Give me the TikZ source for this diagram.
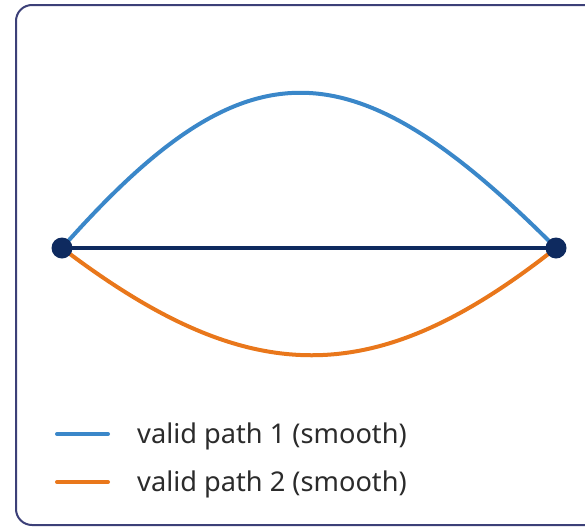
\documentclass[tikz,border=0pt]{standalone}
\usepackage{fontspec}
\setmainfont{Noto Sans}
\usetikzlibrary{backgrounds}
\definecolor{navy}{HTML}{0E2A5F}
\definecolor{framec}{HTML}{3C4078}
\definecolor{pathblue}{HTML}{3A87C9}
\definecolor{pathorange}{HTML}{E9771B}
\definecolor{textgray}{HTML}{2B2B2B}
\tikzset{
    dot/.style={circle, fill=navy, inner sep=0pt, minimum size=21pt},
    edgeline/.style={navy, line width=4.5pt},
    bluepath/.style={pathblue, line width=4pt, line cap=round},
    orangepath/.style={pathorange, line width=4pt, line cap=round},
    legtext/.style={anchor=west, font=\fontsize{27.2}{30}\selectfont, text=textgray, inner sep=0pt}
}

\begin{document}
\begin{tikzpicture}[x=1pt,y=-1pt]
\useasboundingbox (0,0) rectangle (585,530);
\draw[framec, line width=2pt, rounded corners=16pt] (16,5) rectangle (610,525);
% the two end points
\node[dot] (left) at (62,248) {};
\node[dot] (right) at (556,248) {};
\begin{pgfonlayer}{background}
\draw[edgeline] (left.center) -- (right.center);
\draw[bluepath] (left.center) .. controls (245,41) and (350,41) .. (right.center);
\draw[orangepath] (left.center) .. controls (250,391) and (375,391) .. (right.center);
\end{pgfonlayer}
% legend
\node[legtext] (leg1) at (137,436) {valid path 1 (smooth)};
\node[legtext] (leg2) at (137,484) {valid path 2 (smooth)};
\coordinate (b1) at (57,434);
\coordinate (o1) at (57,482);
\draw[bluepath] (b1) -- ++(51,0);
\draw[orangepath] (o1) -- ++(51,0);
\end{tikzpicture}
\end{document}
